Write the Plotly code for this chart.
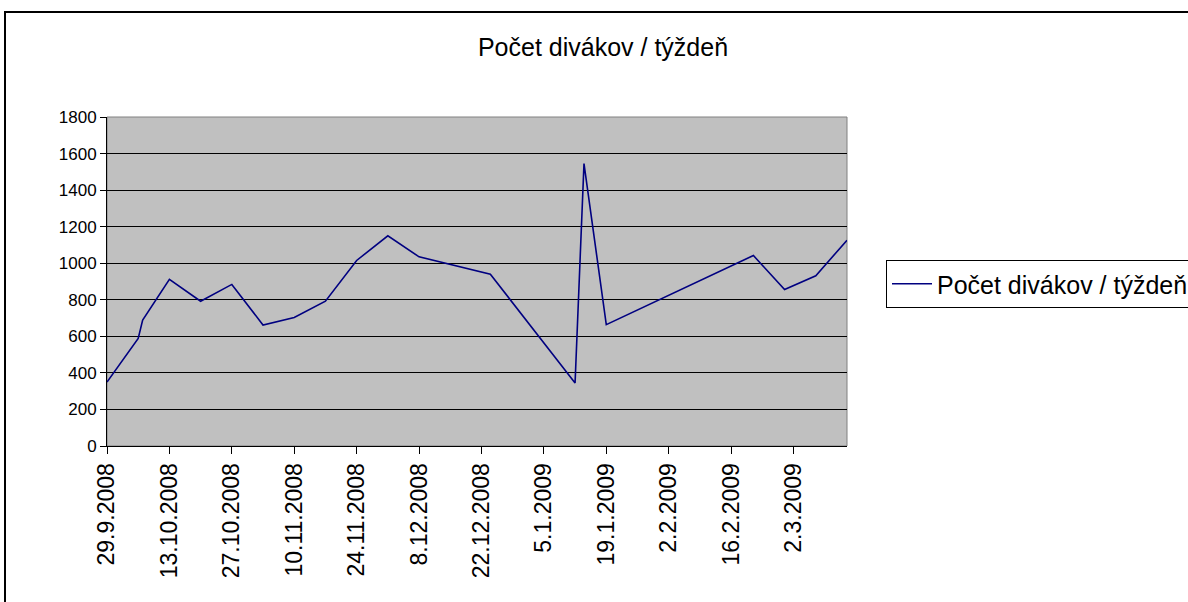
import plotly.graph_objects as go

dates = ["2008-09-29", "2008-10-06", "2008-10-07", "2008-10-13", "2008-10-20",
         "2008-10-27", "2008-11-03", "2008-11-10", "2008-11-17", "2008-11-24",
         "2008-12-01", "2008-12-08", "2008-12-24", "2009-01-12", "2009-01-14",
         "2009-01-19", "2009-02-21", "2009-02-28", "2009-03-07", "2009-03-14"]
viewers = [350, 589, 689, 912, 792, 884, 662, 703, 792, 1015,
           1150, 1035, 940, 345, 1545, 664, 1042, 856, 931, 1126]

tick_dates = ["2008-09-29", "2008-10-13", "2008-10-27", "2008-11-10", "2008-11-24",
              "2008-12-08", "2008-12-22", "2009-01-05", "2009-01-19", "2009-02-02",
              "2009-02-16", "2009-03-02"]
tick_labels = ["29.9.2008", "13.10.2008", "27.10.2008", "10.11.2008", "24.11.2008",
               "8.12.2008", "22.12.2008", "5.1.2009", "19.1.2009", "2.2.2009",
               "16.2.2009", "2.3.2009"]
title_text = "Počet divákov / týždeň"

FONT = "Liberation Sans, Arial, sans-serif"

fig = go.Figure()
fig.add_trace(go.Scatter(
    x=dates, y=viewers, mode="lines", name=title_text,
    line=dict(color="#000080", width=1.6),
))

L, R, T, B = 107, 847, 117, 446
W, H = 1188, 602
pw, ph = R - L, B - T

def px(xp):
    return (xp - L) / pw

def py(yp):
    return (B - yp) / ph

fig.update_layout(
    width=W, height=H,
    margin=dict(l=L, r=W - R, t=T, b=H - B, autoexpand=False),
    paper_bgcolor="white",
    plot_bgcolor="#C0C0C0",
    font=dict(family=FONT, color="black", size=17),
    title=dict(text=title_text, x=603 / W, xref="container", xanchor="center",
               y=1 - 47 / H, yref="container", yanchor="middle",
               font=dict(size=25, family=FONT, color="black")),
    showlegend=True,
    legend=dict(x=px(886), y=py(260), xanchor="left", yanchor="top",
                bordercolor="black", borderwidth=1, bgcolor="white",
                itemwidth=40,
                font=dict(size=25, family=FONT, color="black")),
    xaxis=dict(
        type="date", range=["2008-09-29", "2009-03-14"],
        tickmode="array", tickvals=tick_dates, ticktext=tick_labels,
        tickangle=-90, ticks="outside", ticklen=7, tickcolor="black",
        showgrid=False, showline=True, linecolor="black", linewidth=1,
        mirror=False, zeroline=False, tickfont=dict(size=23),
    ),
    yaxis=dict(
        range=[0, 1800], dtick=200, tick0=0,
        ticks="outside", ticklen=6, tickcolor="black",
        showgrid=True, gridcolor="black", gridwidth=1,
        showline=True, linecolor="black", linewidth=1,
        zeroline=False, tickfont=dict(size=17),
    ),
    shapes=[
        dict(type="rect", xref="paper", yref="paper", x0=0, x1=1, y0=0, y1=1,
             line=dict(color="#808080", width=1), layer="below"),
        dict(type="rect", xref="paper", yref="paper",
             x0=px(5), x1=px(W + 5), y0=py(H + 5), y1=py(12),
             line=dict(color="black", width=2)),
    ],
)

fig.write_html("out.html", config={"displayModeBar": False},
               post_script="document.body.style.margin='0';")
